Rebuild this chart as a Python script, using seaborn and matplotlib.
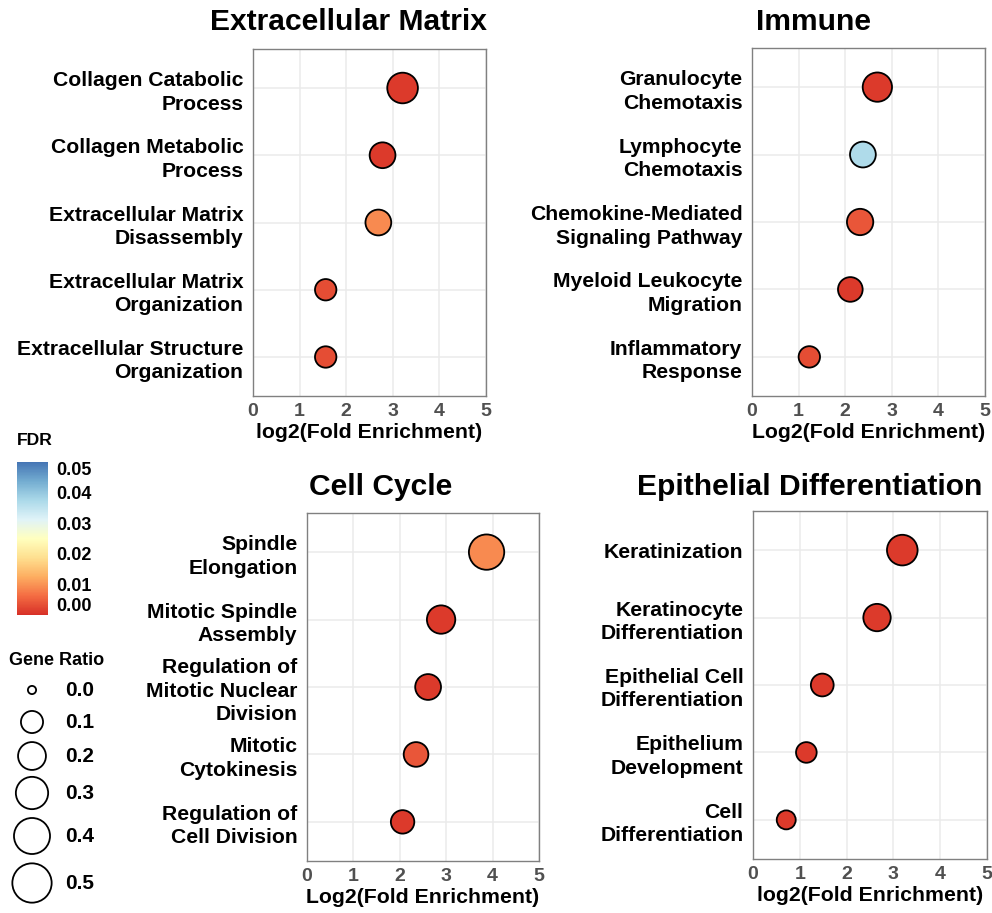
import numpy as np
import pandas as pd
import matplotlib
matplotlib.use("Agg")
import matplotlib.pyplot as plt
from matplotlib.colors import LinearSegmentedColormap, Normalize
import matplotlib.colorbar as mcolorbar
import seaborn as sns

sns.set_style("white")
plt.rcParams["font.family"] = ["Liberation Sans", "DejaVu Sans"]
plt.rcParams["font.weight"] = "bold"
plt.rcParams["text.color"] = "black"
plt.rcParams["axes.labelcolor"] = "black"

# ---------------- data ----------------
ecm_terms = ["Collagen Catabolic\nProcess", "Collagen Metabolic\nProcess",
             "Extracellular Matrix\nDisassembly", "Extracellular Matrix\nOrganization",
             "Extracellular Structure\nOrganization"]
ecm_log2fe = [3.21, 2.78, 2.69, 1.56, 1.56]
ecm_ratio = [0.26, 0.16, 0.16, 0.09, 0.09]
ecm_fdr = [0.001, 0.001, 0.009, 0.003, 0.003]

imm_terms = ["Granulocyte\nChemotaxis", "Lymphocyte\nChemotaxis",
             "Chemokine-Mediated\nSignaling Pathway", "Myeloid Leukocyte\nMigration",
             "Inflammatory\nResponse"]
imm_log2fe = [2.69, 2.38, 2.32, 2.11, 1.23]
imm_ratio = [0.23, 0.16, 0.17, 0.14, 0.09]
imm_fdr = [0.001, 0.037, 0.004, 0.001, 0.003]

cc_terms = ["Spindle\nElongation", "Mitotic Spindle\nAssembly",
            "Regulation of\nMitotic Nuclear\nDivision", "Mitotic\nCytokinesis",
            "Regulation of\nCell Division"]
cc_log2fe = [3.87, 2.89, 2.61, 2.35, 2.06]
cc_ratio = [0.38, 0.21, 0.16, 0.14, 0.12]
cc_fdr = [0.009, 0.001, 0.001, 0.004, 0.001]

epi_terms = ["Keratinization", "Keratinocyte\nDifferentiation",
             "Epithelial Cell\nDifferentiation", "Epithelium\nDevelopment",
             "Cell\nDifferentiation"]
epi_log2fe = [3.19, 2.65, 1.48, 1.14, 0.71]
epi_ratio = [0.26, 0.19, 0.11, 0.08, 0.06]
epi_fdr = [0.001, 0.001, 0.001, 0.001, 0.001]

ratio_breaks = [0.0, 0.1, 0.2, 0.3, 0.4, 0.5]
fdr_breaks = [0.00, 0.01, 0.02, 0.03, 0.04, 0.05]

# ---------------- scales ----------------
W, H = 992, 913
EDGE_LW = 1.3
fdr_cmap = LinearSegmentedColormap.from_list(
    "fdr", ["#d73027", "#f46d43", "#fdae61", "#fee090", "#ffffbf",
            "#e0f3f8", "#abd9e9", "#74add1", "#4575b4"])
fdr_norm = (0.0, 0.05)


def ratio_area(r):
    """Marker area (pt^2): diameter grows with sqrt of the gene ratio."""
    d_px = 10 + 44 * np.sqrt(np.asarray(r, dtype=float))
    d_pt = d_px * 0.72 - EDGE_LW
    return d_pt ** 2


AREA_MIN, AREA_MAX = float(ratio_area(0.0)), float(ratio_area(0.5))

fig = plt.figure(figsize=(W / 100, H / 100), dpi=100)


def px_axes(left, right, top, bottom):
    return fig.add_axes([left / W, 1 - bottom / H, (right - left) / W, (bottom - top) / H])


panels = [
    dict(terms=ecm_terms, fe=ecm_log2fe, ratio=ecm_ratio, fdr=ecm_fdr,
         box=(253, 486, 49, 396), title="Extracellular Matrix", tpos=(348, 22),
         xlabel="log2(Fold Enrichment)"),
    dict(terms=imm_terms, fe=imm_log2fe, ratio=imm_ratio, fdr=imm_fdr,
         box=(752, 985, 48, 396), title="Immune", tpos=(814, 22),
         xlabel="Log2(Fold Enrichment)"),
    dict(terms=cc_terms, fe=cc_log2fe, ratio=cc_ratio, fdr=cc_fdr,
         box=(307, 539, 513, 861), title="Cell Cycle", tpos=(381, 487),
         xlabel="Log2(Fold Enrichment)"),
    dict(terms=epi_terms, fe=epi_log2fe, ratio=epi_ratio, fdr=epi_fdr,
         box=(753, 987, 511, 859), title="Epithelial Differentiation", tpos=(810, 487),
         xlabel="log2(Fold Enrichment)"),
]

for p in panels:
    ax = px_axes(*p["box"])
    df = pd.DataFrame({"term": p["terms"], "fe": p["fe"], "fdr": p["fdr"],
                       "area": ratio_area(p["ratio"])})
    ax.set_axisbelow(True)
    ax.grid(True, color="#ebebeb", lw=1.1)
    sns.scatterplot(data=df, x="fe", y="term", hue="fdr", palette=fdr_cmap,
                    hue_norm=fdr_norm, size="area", sizes=(AREA_MIN, AREA_MAX),
                    size_norm=(AREA_MIN, AREA_MAX), edgecolor="black",
                    linewidth=EDGE_LW, legend=False, ax=ax, zorder=3)
    n = len(p["terms"])
    ax.set_xlim(0, 5)
    ax.set_ylim(n - 1 + 0.58, -0.58)
    ax.set_xticks(range(6))
    ax.set_xticklabels([str(v) for v in range(6)], fontweight="bold")
    ax.set_yticks(range(n))
    ax.set_yticklabels(p["terms"], fontweight="bold", ha="right",
                       multialignment="right", linespacing=1.3)
    ax.set_xlabel(p["xlabel"], fontsize=15.3, fontweight="bold", labelpad=2, color="black")
    ax.set_ylabel("")
    for s in ax.spines.values():
        s.set_color("#808080")
        s.set_linewidth(1.0)
    ax.tick_params(axis="both", length=3, width=1, color="#808080", direction="out")
    ax.tick_params(axis="x", labelsize=14, labelcolor="#505050", pad=2)
    ax.tick_params(axis="y", labelsize=15.2, labelcolor="black", pad=4)
    tx, ty = p["tpos"]
    fig.text(tx / W, 1 - ty / H, p["title"], ha="center", va="center",
             fontsize=21.6, fontweight="bold", color="black")

# ---------------- FDR colour bar ----------------
fig.text(17 / W, 1 - 440 / H, "FDR", ha="left", va="center", fontsize=12.6,
         fontweight="bold", color="black")
cax = px_axes(17, 48, 462, 615)
cbar = mcolorbar.ColorbarBase(cax, cmap=fdr_cmap, norm=Normalize(*fdr_norm),
                              orientation="vertical")
cbar.outline.set_visible(False)
cbar.set_ticks(fdr_breaks)
cbar.set_ticklabels([f"{v:.2f}" for v in fdr_breaks])
cax.yaxis.set_ticks_position("both")
cax.tick_params(axis="y", direction="in", length=5, width=1, color="white",
                labelleft=False, labelright=True, labelsize=13, labelcolor="black", pad=6)
ticklabs = cax.get_yticklabels()
for lab in ticklabs:
    lab.set_fontweight("bold")
ticklabs[0].set_va("bottom")
ticklabs[-1].set_va("top")

# ---------------- Gene Ratio size legend ----------------
fig.text(9 / W, 1 - 660 / H, "Gene Ratio", ha="left", va="center", fontsize=13,
         fontweight="bold", color="black")
lax = px_axes(0, 140, 640, 913)
row_y = [690, 722, 756, 793, 836, 883]
leg = pd.DataFrame({"x": [32] * len(ratio_breaks), "y": row_y,
                    "area": ratio_area(ratio_breaks)})
sns.scatterplot(data=leg, x="x", y="y", size="area", sizes=(AREA_MIN, AREA_MAX),
                size_norm=(AREA_MIN, AREA_MAX), color="white", edgecolor="black",
                linewidth=EDGE_LW, legend=False, ax=lax, clip_on=False)
lax.set_xlim(0, 140)
lax.set_ylim(913, 640)
lax.axis("off")
for v, y in zip(ratio_breaks, row_y):
    lax.text(65, y, f"{v:.1f}", ha="left", va="center", fontsize=15,
             fontweight="bold", color="black")

fig.savefig("out.png", dpi=100, facecolor="white")
